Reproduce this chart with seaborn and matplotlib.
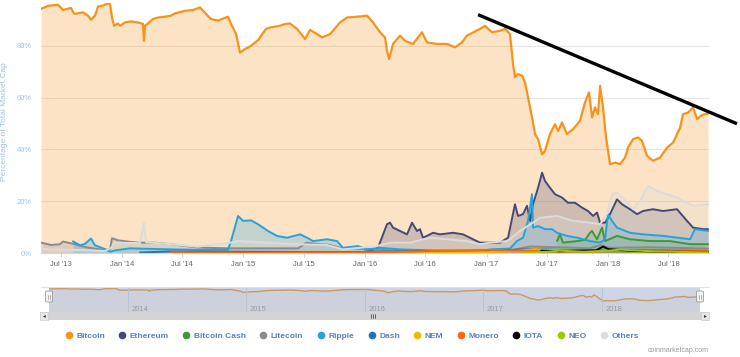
import numpy as np
import pandas as pd
import matplotlib
matplotlib.use("Agg")
import matplotlib.pyplot as plt
from matplotlib.lines import Line2D
from matplotlib.patches import Rectangle, FancyBboxPatch
import seaborn as sns

# time is in fractional years, values are % of total market cap
btc_t = [2013.335, 2013.393, 2013.475, 2013.516, 2013.582, 2013.606, 2013.639, 2013.681, 2013.722, 2013.746,
         2013.779, 2013.804, 2013.845, 2013.886, 2013.903, 2013.919, 2013.936, 2013.968, 2013.985, 2014.026,
         2014.075, 2014.133, 2014.174, 2014.182, 2014.191, 2014.215, 2014.256, 2014.297, 2014.355, 2014.404,
         2014.437, 2014.520, 2014.585, 2014.643, 2014.668, 2014.733, 2014.791, 2014.873, 2014.898, 2014.939,
         2014.972, 2015.013, 2015.063, 2015.120, 2015.186, 2015.227, 2015.301, 2015.342, 2015.383, 2015.441,
         2015.507, 2015.548, 2015.606, 2015.647, 2015.713, 2015.795, 2015.852, 2015.935, 2016.017, 2016.066,
         2016.124, 2016.165, 2016.181, 2016.198, 2016.231, 2016.288, 2016.329, 2016.395, 2016.469, 2016.510,
         2016.593, 2016.675, 2016.741, 2016.798, 2016.839, 2016.946, 2016.987, 2017.045, 2017.111, 2017.152,
         2017.193, 2017.218, 2017.234, 2017.259, 2017.292, 2017.317, 2017.341, 2017.374, 2017.399, 2017.424,
         2017.457, 2017.481, 2017.522, 2017.563, 2017.588, 2017.621, 2017.662, 2017.712, 2017.769, 2017.810,
         2017.843, 2017.868, 2017.892, 2017.917, 2017.934, 2017.958, 2017.983, 2018.016, 2018.057, 2018.098,
         2018.139, 2018.164, 2018.205, 2018.246, 2018.279, 2018.320, 2018.369, 2018.427, 2018.485, 2018.534,
         2018.592, 2018.616, 2018.658, 2018.699, 2018.732, 2018.773, 2018.822]
btc_v = [94.2, 95.4, 95.8, 93.8, 94.6, 92.4, 92.5, 92.9, 91.6, 90.0,
         91.6, 95.1, 95.5, 96.4, 96.1, 90.9, 87.7, 88.6, 87.7, 89.0,
         89.4, 89.0, 88.4, 81.9, 87.7, 88.6, 90.3, 90.9, 91.2, 91.6,
         92.5, 93.5, 93.8, 94.8, 93.5, 90.3, 89.7, 91.2, 88.4, 84.6,
         77.4, 78.7, 80.0, 82.2, 86.5, 87.1, 87.7, 88.4, 88.6, 86.5,
         82.6, 86.1, 84.5, 83.2, 84.5, 89.0, 90.9, 91.2, 91.6, 89.0,
         85.2, 83.2, 78.1, 74.9, 80.7, 83.9, 81.9, 80.7, 85.2, 81.3,
         80.7, 80.7, 79.4, 81.3, 83.9, 86.5, 87.7, 85.2, 85.8, 86.5,
         84.5, 72.9, 67.8, 69.1, 68.4, 65.8, 60.1, 52.3, 45.9, 43.9,
         38.1, 39.4, 45.9, 49.7, 47.1, 50.4, 45.9, 47.8, 51.0, 58.1,
         62.0, 52.3, 56.2, 53.6, 64.5, 56.2, 44.6, 34.3, 34.9, 34.3,
         36.8, 40.7, 43.9, 44.6, 43.3, 37.5, 35.6, 36.8, 40.7, 42.6,
         48.4, 53.6, 54.2, 56.2, 51.7, 53.3, 53.8]

eth_t = [2015.60, 2015.75, 2015.95, 2016.05, 2016.107, 2016.181, 2016.206, 2016.231, 2016.288, 2016.346,
         2016.387, 2016.428, 2016.453, 2016.477, 2016.510, 2016.560, 2016.617, 2016.724, 2016.807, 2016.889,
         2016.946, 2017.029, 2017.111, 2017.177, 2017.234, 2017.259, 2017.300, 2017.333, 2017.358, 2017.382,
         2017.424, 2017.457, 2017.481, 2017.522, 2017.563, 2017.621, 2017.670, 2017.728, 2017.786, 2017.835,
         2017.876, 2017.909, 2017.934, 2017.975, 2018.016, 2018.073, 2018.115, 2018.180, 2018.238, 2018.287,
         2018.369, 2018.452, 2018.567, 2018.649, 2018.699, 2018.781, 2018.822]
eth_v = [0.3, 0.3, 0.2, 0.8, 2.0, 11.1, 11.7, 9.8, 8.5, 7.2,
         11.7, 8.5, 9.2, 5.9, 6.6, 7.8, 7.2, 7.8, 7.2, 5.3,
         4.0, 4.0, 4.0, 5.9, 18.8, 14.3, 15.0, 18.2, 12.4, 18.8,
         25.2, 31.0, 27.8, 25.2, 22.7, 21.4, 19.4, 19.4, 17.5, 16.2,
         14.3, 15.6, 11.7, 11.7, 15.0, 20.7, 18.8, 16.9, 15.0, 16.2,
         16.9, 16.2, 16.9, 12.4, 9.8, 9.2, 9.2]

bch_t = [2017.58, 2017.604, 2017.629, 2017.745, 2017.810, 2017.851, 2017.868, 2017.909, 2017.950, 2017.975,
         2018.073, 2018.180, 2018.345, 2018.509, 2018.674, 2018.822]
bch_v = [4.6, 7.2, 4.0, 4.6, 5.0, 7.8, 8.5, 5.3, 9.8, 4.6,
         6.6, 5.3, 4.6, 4.6, 3.4, 3.4]

ltc_t = [2013.335, 2013.417, 2013.491, 2013.516, 2013.557, 2013.615, 2013.664, 2013.722, 2013.820, 2013.861,
         2013.903, 2013.919, 2013.968, 2014.051, 2014.133, 2014.273, 2014.404, 2014.520, 2014.627, 2014.890,
         2015.137, 2015.450, 2015.520, 2015.600, 2015.700, 2015.800, 2016.000, 2016.288, 2016.700, 2017.029,
         2017.193, 2017.358, 2017.604, 2017.851, 2017.934, 2018.016, 2018.345, 2018.822]
ltc_v = [4.0, 3.1, 3.4, 4.4, 4.0, 3.4, 2.7, 2.1, 1.4, 1.2,
         1.5, 5.7, 4.9, 4.4, 4.0, 4.0, 3.4, 2.7, 2.1, 1.8,
         1.8, 1.8, 4.0, 3.5, 3.2, 2.0, 1.5, 0.8, 0.6, 0.6,
         1.0, 2.5, 2.2, 1.8, 3.0, 2.0, 2.2, 1.7]

xrp_t = [2013.598, 2013.656, 2013.697, 2013.746, 2013.779, 2013.861, 2013.903, 2013.944, 2014.067, 2014.314,
         2014.643, 2014.873, 2014.898, 2014.956, 2014.997, 2015.063, 2015.120, 2015.202, 2015.276, 2015.359,
         2015.466, 2015.524, 2015.573, 2015.688, 2015.770, 2015.819, 2015.943, 2016.017, 2016.124, 2016.288,
         2016.560, 2016.971, 2017.029, 2017.193, 2017.250, 2017.300, 2017.341, 2017.374, 2017.382, 2017.424,
         2017.481, 2017.539, 2017.580, 2017.662, 2017.745, 2017.851, 2017.934, 2017.975, 2017.999, 2018.032,
         2018.073, 2018.180, 2018.287, 2018.452, 2018.674, 2018.715, 2018.822]
xrp_v = [4.5, 3.0, 3.5, 5.6, 3.0, 1.5, 0.5, 1.0, 1.8, 1.5,
         1.2, 1.3, 4.6, 14.3, 12.4, 12.6, 11.1, 8.5, 6.6, 5.9,
         7.2, 5.9, 4.6, 5.3, 4.6, 2.0, 2.7, 1.4, 2.0, 1.4,
         1.0, 0.8, 1.4, 1.7, 4.6, 5.9, 12.4, 22.7, 9.8, 10.4,
         9.2, 9.2, 7.8, 6.6, 5.9, 4.6, 4.0, 5.3, 15.0, 12.4,
         9.8, 7.8, 7.2, 6.6, 5.3, 9.2, 8.5]

dash_t = [2014.15, 2014.40, 2015.00, 2015.50, 2016.00, 2016.50, 2017.00, 2017.20, 2017.40, 2017.60,
          2017.90, 2018.00, 2018.40, 2018.822]
dash_v = [0.2, 0.6, 0.5, 0.4, 0.4, 0.7, 0.8, 1.2, 1.5, 1.2,
          1.0, 1.2, 1.0, 0.8]

nem_t = [2015.25, 2016.00, 2016.50, 2017.00, 2017.25, 2017.40, 2017.50, 2017.60, 2017.90, 2018.00,
         2018.20, 2018.50, 2018.822]
nem_v = [0.05, 0.1, 0.2, 0.3, 0.8, 1.5, 1.2, 1.0, 0.6, 1.2,
         0.7, 0.4, 0.3]

xmr_t = [2014.40, 2015.00, 2016.00, 2016.60, 2016.80, 2017.00, 2017.30, 2017.60, 2017.90, 2018.00,
         2018.40, 2018.822]
xmr_v = [0.3, 0.1, 0.1, 0.8, 1.0, 1.2, 0.9, 0.6, 0.7, 0.8,
         0.8, 0.8]

iota_t = [2017.45, 2017.60, 2017.90, 2017.96, 2018.00, 2018.20, 2018.50, 2018.822]
iota_v = [0.9, 0.7, 1.0, 2.5, 1.5, 0.8, 0.5, 0.4]

neo_t = [2017.30, 2017.50, 2017.60, 2017.80, 2018.00, 2018.10, 2018.30, 2018.60, 2018.822]
neo_v = [0.1, 0.5, 0.9, 0.5, 0.9, 1.3, 0.8, 0.4, 0.3]

oth_t = [2013.335, 2013.615, 2013.861, 2013.911, 2013.944, 2014.149, 2014.182, 2014.199, 2014.404, 2014.627,
         2014.725, 2014.849, 2014.956, 2015.202, 2015.408, 2015.688, 2015.819, 2015.959, 2016.099, 2016.206,
         2016.371, 2016.535, 2016.675, 2016.839, 2016.946, 2017.029, 2017.169, 2017.193, 2017.275, 2017.382,
         2017.440, 2017.580, 2017.712, 2017.851, 2017.934, 2017.991, 2018.032, 2018.073, 2018.123, 2018.205,
         2018.279, 2018.328, 2018.402, 2018.485, 2018.567, 2018.649, 2018.699, 2018.822]
oth_v = [1.5, 1.2, 0.8, 2.0, 4.0, 3.8, 11.7, 4.2, 3.4, 2.4,
         3.2, 3.6, 4.6, 4.0, 3.4, 3.1, 1.4, 2.0, 2.7, 4.0,
         4.0, 5.9, 5.3, 4.6, 3.4, 4.0, 4.6, 5.3, 8.5, 11.7,
         13.6, 14.3, 12.4, 11.7, 11.1, 15.0, 22.7, 23.3, 21.4, 16.9,
         21.4, 25.9, 24.0, 22.7, 21.4, 19.4, 18.2, 18.8]

names = ["Bitcoin", "Ethereum", "Bitcoin Cash", "Litecoin", "Ripple", "Dash",
         "NEM", "Monero", "IOTA", "NEO", "Others"]
colors = ["#f7931a", "#454a75", "#3c9a36", "#8a8a8a", "#23a3dd", "#1c75bc",
          "#f6b700", "#ff6600", "#000000", "#99cc00", "#dcdcdc"]
times = [btc_t, eth_t, bch_t, ltc_t, xrp_t, dash_t, nem_t, xmr_t, iota_t, neo_t, oth_t]
values = [btc_v, eth_v, bch_v, ltc_v, xrp_v, dash_v, nem_v, xmr_v, iota_v, neo_v, oth_v]

x_ticks = [2013.496, 2014.0, 2014.496, 2015.0, 2015.496, 2016.0, 2016.496, 2017.0, 2017.496, 2018.0, 2018.496]
x_labels = ["Jul '13", "Jan '14", "Jul '14", "Jan '15", "Jul '15", "Jan '16",
            "Jul '16", "Jan '17", "Jul '17", "Jan '18", "Jul '18"]
y_ticks = [0, 20, 40, 60, 80]
nav_years = [2014, 2015, 2016, 2017, 2018]

# hand drawn trend line (start / end)
trend_t = [2016.930, 2019.06]
trend_v = [92.0, 49.9]

sns.set_theme(style="white")
plt.rcParams['font.family'] = ['Liberation Sans', 'DejaVu Sans']

W, H = 740, 357
fig = plt.figure(figsize=(W / 100, H / 100), dpi=100)


def box(x0, y0, x1, y1):
    return [x0 / W, 1 - y1 / H, (x1 - x0) / W, (y1 - y0) / H]


xmin, xmax = 2013.335, 2018.83

# ---- main chart ----
ax = fig.add_axes(box(41, 3, 709, 253))
for name, t, v, col in zip(names, times, values, colors):
    df = pd.DataFrame({"t": t, "v": v})
    ax.fill_between(df["t"], df["v"], 0, color=col, alpha=0.25, linewidth=0)
    lw = 1.6 if name == "Bitcoin" else 1.4
    sns.lineplot(data=df, x="t", y="v", ax=ax, color=col, linewidth=lw, estimator=None)

ax.plot(trend_t, trend_v, color="black", linewidth=2.4, clip_on=False, solid_capstyle="butt", zorder=5)

ax.set_xlim(xmin, xmax)
ax.set_ylim(0, 96.5)
ax.set_xlabel("")
ax.set_ylabel("")
ax.set_yticks(y_ticks)
ax.set_yticklabels([f"{y}%" for y in y_ticks])
ax.set_xticks(x_ticks)
ax.set_xticklabels(x_labels)
ax.grid(axis="y", color="#e6e6e6", linewidth=0.8)
ax.set_axisbelow(True)
for s in ["top", "right", "left"]:
    ax.spines[s].set_visible(False)
ax.spines["bottom"].set_color("#ccd6eb")
ax.spines["bottom"].set_linewidth(0.8)
ax.tick_params(axis="y", length=0, pad=6.5, labelsize=5.5, labelcolor="#9fc2ee")
ax.tick_params(axis="x", length=3, width=0.7, color="#ccd6eb", pad=3, labelsize=5.5,
               labelcolor="#666666", bottom=True)

fig.text(5 / W, 1 - 122 / H, "Percentage of Total Market Cap", rotation=90,
         ha="center", va="center", fontsize=6, color="#9fc2ee")

# ---- navigator ----
nav = fig.add_axes(box(49, 287, 700, 312))
nav.set_facecolor("#cfd5e4")
btc_df = pd.DataFrame({"t": btc_t, "v": btc_v})
nav.fill_between(btc_df["t"], btc_df["v"], -30, color="#c9b9a8", alpha=0.15, linewidth=0)
sns.lineplot(data=btc_df, x="t", y="v", ax=nav, color="#c99a68", linewidth=1.0, estimator=None)
nav.set_xlim(xmin, xmax)
nav.set_ylim(-22, 104)
for yr in nav_years:
    nav.axvline(yr, color="#bcc3d3", linewidth=0.7)
    nav.text(yr + 0.03, -8, str(yr), fontsize=5.5, color="#9a9aa6", va="center", ha="left")
nav.set_xticks([])
nav.set_yticks([])
nav.set_xlabel("")
nav.set_ylabel("")
for s in nav.spines.values():
    s.set_visible(False)
fig.add_artist(Line2D([41 / W, 709 / W], [1 - 287 / H] * 2, color="#e2e2e2", linewidth=0.8))

# navigator handles
for hx in [49, 700]:
    fig.add_artist(FancyBboxPatch(((hx - 3.5) / W, 1 - 302 / H), 7 / W, 11 / H,
                                  boxstyle="round,pad=0,rounding_size=0.003",
                                  facecolor="#f2f2f2", edgecolor="#999999", linewidth=0.6))
    for dx in [-1, 1]:
        fig.add_artist(Line2D([(hx + dx) / W] * 2, [1 - 299 / H, 1 - 295 / H],
                              color="#999999", linewidth=0.5))

# scrollbar
fig.add_artist(Rectangle((40 / W, 1 - 320 / H), 669 / W, 8 / H, facecolor="#d4d4d4",
                         edgecolor="none"))
for bx in [40, 701]:
    fig.add_artist(Rectangle((bx / W, 1 - 320 / H), 8 / W, 8 / H, facecolor="#e6e6e6",
                             edgecolor="#cccccc", linewidth=0.5))
fig.text(44 / W, 1 - 316 / H, "◂", fontsize=4, ha="center", va="center", color="#333333",
         family="DejaVu Sans")
fig.text(705 / W, 1 - 316 / H, "▸", fontsize=4, ha="center", va="center", color="#333333",
         family="DejaVu Sans")
for gx in [371, 373, 375]:
    fig.add_artist(Line2D([gx / W] * 2, [1 - 318 / H, 1 - 314 / H], color="#333333", linewidth=0.5))

# ---- legend ----
handles = [Line2D([], [], marker="o", linestyle="", markersize=5.5, markerfacecolor=c,
                  markeredgewidth=0) for c in colors]
leg = fig.legend(handles, names, loc="center", bbox_to_anchor=(352 / W, 1 - 336 / H), ncol=11,
                 frameon=False, fontsize=6, handlelength=0.8, handletextpad=0.5,
                 columnspacing=1.7, borderaxespad=0)
for txt in leg.get_texts():
    txt.set_color("#5b7fc4")
    txt.set_fontweight("bold")

fig.text(709 / W, 1 - 350 / H, "coinmarketcap.com", fontsize=5, color="#999999",
         ha="right", va="center")

fig.savefig("out.png", dpi=100)
